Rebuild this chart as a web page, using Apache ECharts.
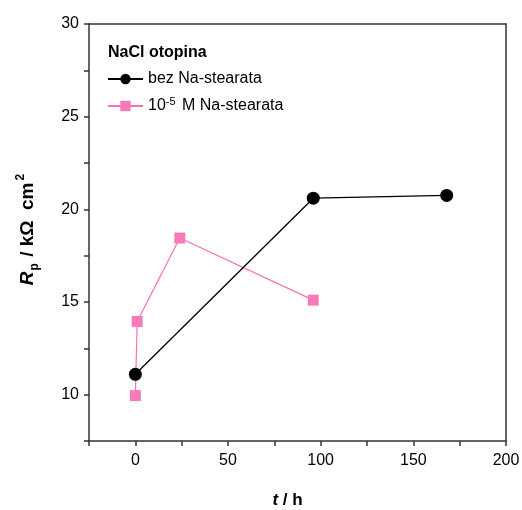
<!DOCTYPE html>
<html>
<head>
<meta charset="utf-8">
<script src="https://cdn.jsdelivr.net/npm/echarts@6/dist/echarts.min.js"></script>
<style>html,body{margin:0;padding:0;background:#fff}#c{width:522px;height:510px}</style>
</head>
<body>
<div id="c"></div>
<script>
// Data
const seriesNames = ['bez Na-stearata', '10^-5 M Na-stearata'];
const timeBez = [0, 96, 168];
const rpBez = [11.1, 20.6, 20.75];
const timeStear = [0, 1, 24, 96];
const rpStear = [9.95, 13.95, 18.45, 15.1];
const legendTitle = 'NaCl otopina';
const xLabels = [0, 50, 100, 150, 200];
const yLabels = [10, 15, 20, 25, 30];

const FONT = 'Liberation Sans, Arial, sans-serif';
const chart = echarts.init(document.getElementById('c'));
const zip = (a, b) => a.map((v, i) => [v, b[i]]);

chart.setOption({
  animation: false,
  backgroundColor: '#fff',
  textStyle: { fontFamily: FONT },
  title: {
    text: legendTitle, left: 103, top: 40,
    textStyle: { fontFamily: FONT, fontSize: 16, fontWeight: 'bold', color: '#000' }
  },
  legend: {
    orient: 'vertical', left: 102, top: 66,
    itemWidth: 35, itemHeight: 13, itemGap: 9,
    data: seriesNames,
    formatter: n => n === seriesNames[1] ? '10{sup|-5} M Na-stearata' : n,
    textStyle: {
      fontFamily: FONT, fontSize: 16, color: '#000', padding: [0, 0, 0, 0],
      rich: { sup: { fontFamily: FONT, fontSize: 11, verticalAlign: 'top', padding: [0, 2, 9, 0], color: '#000' } }
    }
  },
  grid: { left: 89, right: 16, top: 24, bottom: 69, containLabel: false, outerBoundsMode: 'none' },
  xAxis: [{
    type: 'value', min: -25, max: 200, interval: 25,
    name: '{i|t}{b| / h}', nameLocation: 'middle', nameGap: 51,
    nameTextStyle: {
      padding: [0, 20, 0, 0],
      rich: {
        i: { fontFamily: FONT, fontSize: 17, fontWeight: 'bold', fontStyle: 'italic', color: '#000' },
        b: { fontFamily: FONT, fontSize: 17, fontWeight: 'bold', color: '#000' }
      }
    },
    axisLine: { show: true, onZero: false, lineStyle: { color: '#333', width: 1.5 } },
    axisTick: { show: true, inside: false, length: 5, lineStyle: { color: '#333', width: 1.5 } },
    axisLabel: {
      fontFamily: FONT, fontSize: 16, color: '#000', margin: 12,
      formatter: v => xLabels.includes(v) ? String(v) : ''
    },
    splitLine: { show: false }
  }, {
    type: 'value', position: 'top', min: -25, max: 200,
    axisLine: { show: true, onZero: false, lineStyle: { color: '#333', width: 1.5 } },
    axisTick: { show: false }, axisLabel: { show: false }, splitLine: { show: false }
  }],
  yAxis: [{
    type: 'value', min: 7.5, max: 30, interval: 2.5,
    name: '{i|R}{sub|p}{b| / kΩ  cm}{sup|2}', nameLocation: 'middle', nameGap: 48, nameRotate: 90,
    nameTextStyle: {
      padding: [0, 0, 0, 6],
      rich: {
        i: { fontFamily: FONT, fontSize: 19, fontWeight: 'bold', fontStyle: 'italic', color: '#000', lineHeight: 26 },
        sub: { fontFamily: FONT, fontSize: 12, fontWeight: 'bold', color: '#000', verticalAlign: 'bottom', lineHeight: 26, padding: [7, 1, 0, 1] },
        b: { fontFamily: FONT, fontSize: 19, fontWeight: 'bold', color: '#000', lineHeight: 26 },
        sup: { fontFamily: FONT, fontSize: 12, fontWeight: 'bold', color: '#000', verticalAlign: 'top', lineHeight: 26, padding: [0, 0, 11, 2] }
      }
    },
    axisLine: { show: true, onZero: false, lineStyle: { color: '#333', width: 1.5 } },
    axisTick: { show: true, inside: false, length: 5, lineStyle: { color: '#333', width: 1.5 } },
    axisLabel: {
      fontFamily: FONT, fontSize: 16, color: '#000', margin: 10,
      formatter: v => yLabels.includes(v) ? String(v) : ''
    },
    splitLine: { show: false }
  }, {
    type: 'value', position: 'right', min: 7.5, max: 30,
    axisLine: { show: true, onZero: false, lineStyle: { color: '#333', width: 1.5 } },
    axisTick: { show: false }, axisLabel: { show: false }, splitLine: { show: false }
  }],
  series: [{
    name: seriesNames[0], type: 'line', data: zip(timeBez, rpBez),
    symbol: 'circle', symbolSize: 13,
    lineStyle: { color: '#000', width: 1.3 },
    itemStyle: { color: '#000' }, z: 3
  }, {
    name: seriesNames[1], type: 'line', data: zip(timeStear, rpStear),
    symbol: 'rect', symbolSize: 11,
    lineStyle: { color: '#FF6EB4', width: 1.2 },
    itemStyle: { color: '#F77BBB' }, z: 2
  }]
});
</script>
</body>
</html>
